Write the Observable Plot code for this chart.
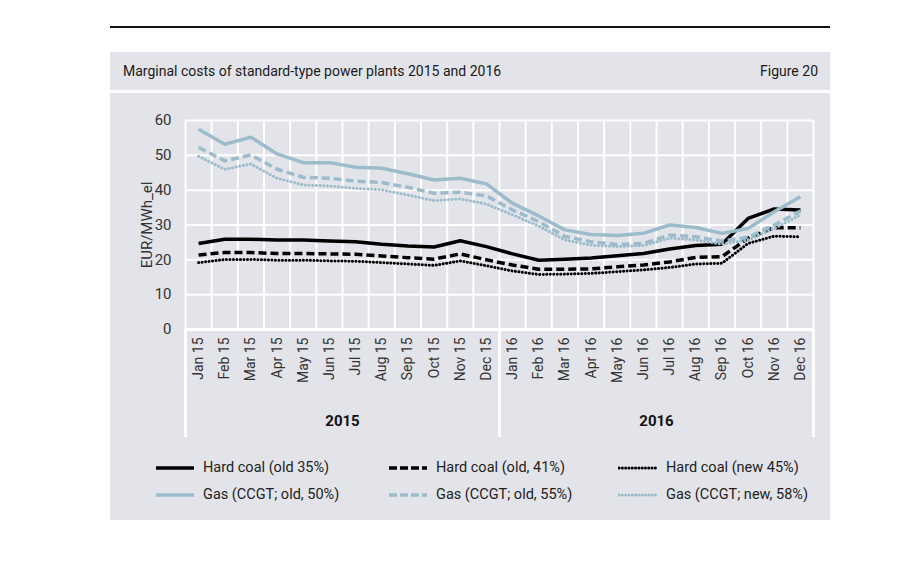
<!DOCTYPE html>
<html>
<head>
<meta charset="utf-8">
<script src="https://cdn.jsdelivr.net/npm/d3@7"></script>
<script src="https://cdn.jsdelivr.net/npm/@observablehq/plot@0.6"></script>
<style>
  html, body { margin: 0; padding: 0; background: #fff; width: 909px; height: 581px; overflow: hidden; font-family: Roboto, "Noto Sans", sans-serif; }
  #topline { position: absolute; left: 110px; top: 26px; width: 720px; height: 2px; background: #111; }
  #titlebar { position: absolute; left: 110px; top: 52px; width: 720px; height: 38px; background: #e3e4e9; color: #1a1a1a; font-size: 14px; }
  #titlebar .t { position: absolute; left: 13px; top: 11px; }
  #titlebar .f { position: absolute; right: 12px; top: 11px; }
  #panel { position: absolute; left: 110px; top: 93px; width: 720px; height: 427px; background: #e3e4e9; }
  #chart { position: absolute; left: 0; top: 0; }
  #legend { position: absolute; left: 0; top: 366px; width: 720px; }
  .item { position: absolute; display: flex; align-items: center; font-size: 14.5px; color: #222; white-space: nowrap; }
  .item svg { margin-right: 8px; }
</style>
</head>
<body>
<div id="topline"></div>
<div id="titlebar"><span class="t">Marginal costs of standard-type power plants 2015 and 2016</span><span class="f">Figure 20</span></div>
<div id="panel">
  <div id="chart"></div>
  <div id="legend"></div>
</div>
<script>
const months = ["Jan 15","Feb 15","Mar 15","Apr 15","May 15","Jun 15","Jul 15","Aug 15","Sep 15","Oct 15","Nov 15","Dec 15",
                "Jan 16","Feb 16","Mar 16","Apr 16","May 16","Jun 16","Jul 16","Aug 16","Sep 16","Oct 16","Nov 16","Dec 16"];
const years = ["2015", "2016"];
const yTicks = [0, 10, 20, 30, 40, 50, 60];

const hardCoalOld35 = [24.7,25.9,25.9,25.7,25.7,25.4,25.2,24.5,24.0,23.7,25.5,23.8, 21.7,19.9,20.2,20.5,21.2,21.8,23.1,24.1,24.5,31.9,34.6,34.3];
const hardCoalOld41 = [21.4,22.1,22.1,21.8,21.8,21.7,21.6,21.1,20.6,20.2,21.7,20.0, 18.5,17.3,17.3,17.4,18.0,18.5,19.4,20.7,20.9,26.2,29.2,29.2];
const hardCoalNew45 = [19.2,20.1,20.1,19.9,19.9,19.7,19.6,19.2,18.8,18.4,19.7,18.3, 16.8,15.8,15.9,16.1,16.6,17.1,17.8,18.8,19.0,24.7,26.8,26.6];
const gasOld50 = [57.5,53.2,55.2,50.4,47.9,47.9,46.6,46.3,44.7,42.9,43.4,41.8, 36.2,32.6,28.6,27.3,27.0,27.6,30.0,29.3,27.6,29.0,33.8,38.1];
const gasOld55 = [52.3,48.4,50.1,46.0,43.7,43.4,42.6,42.2,40.8,39.1,39.4,38.4, 34.3,31.0,26.7,25.2,24.4,24.7,27.1,26.6,25.4,26.5,30.0,34.0];
const gasNew58 = [49.7,46.0,47.5,43.4,41.5,41.2,40.5,40.1,38.6,37.0,37.5,36.0, 32.9,29.7,25.7,24.2,23.8,24.1,26.2,25.7,24.5,25.7,29.0,32.9];

const seriesNames = ["Hard coal (old 35%)", "Hard coal (old, 41%)", "Hard coal (new 45%)",
                     "Gas (CCGT; old, 50%)", "Gas (CCGT; old, 55%)", "Gas (CCGT; new, 58%)"];
const seriesValues = [hardCoalOld35, hardCoalOld41, hardCoalNew45, gasOld50, gasOld55, gasNew58];

const coal = "#000000", gas = "#9dbccb";
const styles = [
  {stroke: coal, strokeWidth: 3.5, dash: null, cap: "butt"},
  {stroke: coal, strokeWidth: 3.5, dash: "8 4", cap: "butt"},
  {stroke: coal, strokeWidth: 3, dash: "0.1 3.4", cap: "round"},
  {stroke: gas, strokeWidth: 3.5, dash: null, cap: "butt"},
  {stroke: gas, strokeWidth: 3.5, dash: "8 4", cap: "butt"},
  {stroke: gas, strokeWidth: 3, dash: "0.1 3.6", cap: "round"}
];

const lineMarks = seriesValues.map((vals, k) =>
  Plot.line(vals.map((v, i) => ({i, v})), {
    x: "i", y: "v", stroke: styles[k].stroke, strokeWidth: styles[k].strokeWidth,
    strokeDasharray: styles[k].dash, strokeLinecap: styles[k].cap, strokeLinejoin: "round"
  })
);

const chart = Plot.plot({
  width: 720,
  height: 350,
  marginLeft: 75,
  marginRight: 17,
  marginTop: 27,
  marginBottom: 114,
  style: {background: "transparent", fontFamily: "Roboto, 'Noto Sans', sans-serif", fontSize: "14px", color: "#333"},
  x: {type: "linear", domain: [-0.5, 23.5]},
  y: {domain: [0, 60]},
  marks: [
    Plot.ruleY(yTicks, {stroke: "white", strokeWidth: 2}),
    Plot.ruleX(d3.range(-0.5, 24, 1), {y1: 0, y2: 60, stroke: "white", strokeWidth: 2}),
    Plot.ruleX([-0.5, 11.5, 23.5], {y1: 0, y2: -31, stroke: "white", strokeWidth: 3}),
    Plot.ruleY([0], {stroke: "white", strokeWidth: 3}),
    ...lineMarks,
    Plot.axisX(d3.range(24), {tickFormat: i => months[i], tickRotate: -90, tickSize: 0, tickPadding: 8, label: null, fontSize: 14}),
    Plot.text(years, {x: [5.5, 17.5], y: [-26.4, -26.4], text: d => d, fontWeight: "bold", fontSize: 15, fill: "#111"}),
    Plot.axisY(yTicks, {tickSize: 0, tickPadding: 14, label: "EUR/MWh_el", labelAnchor: "center", labelArrow: "none", labelOffset: 44, fontSize: 15})
  ]
});
document.getElementById("chart").appendChild(chart);

// legend
const legend = document.getElementById("legend");
const colX = [45, 278, 508];
seriesNames.forEach((name, k) => {
  const col = k % 3, row = Math.floor(k / 3);
  const st = styles[k];
  const div = document.createElement("div");
  div.className = "item";
  div.style.left = colX[col] + "px";
  div.style.top = (row * 27) + "px";
  div.innerHTML = `<svg width="40" height="10"><line x1="1" y1="5" x2="39" y2="5" stroke="${st.stroke}" stroke-width="${st.strokeWidth}" ${st.dash ? `stroke-dasharray="${k % 3 === 1 ? "8 3" : "0.1 3.2"}"` : ""} stroke-linecap="${st.cap}"/></svg><span>${name}</span>`;
  legend.appendChild(div);
});
</script>
</body>
</html>
